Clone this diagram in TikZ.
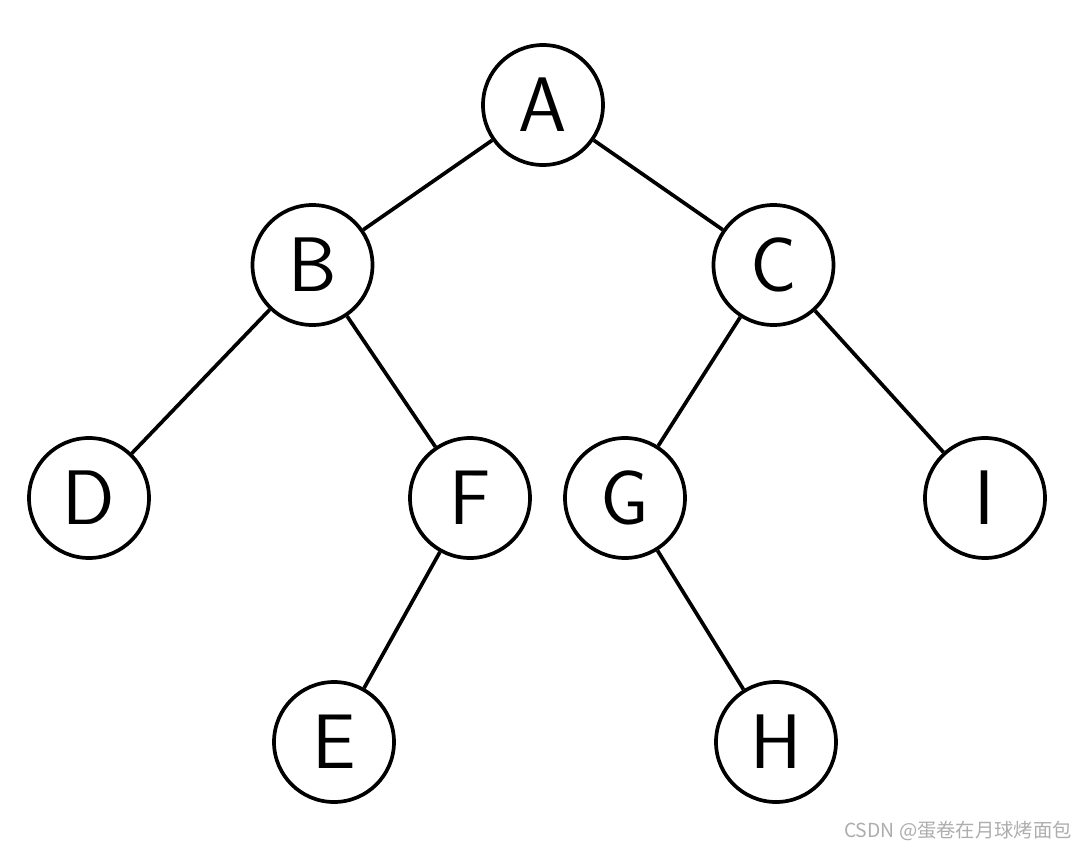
\documentclass[tikz,border=0pt]{standalone}
\usepackage{fontspec}
\newfontfamily\cjkfont{Noto Sans CJK SC}
\tikzset{
  treenode/.style={circle, draw, line width=2.1pt, minimum size=2.4cm, inner sep=0pt,
    font=\sffamily\fontsize{44}{48}\selectfont},
  watermark/.style={text=black!32, font=\cjkfont\fontsize{11}{13}\selectfont},
}
\begin{document}
\begin{tikzpicture}[level distance=3.2cm,
    level 1/.style={sibling distance=9.22cm},
    level 2/.style={sibling distance=7.4cm, level distance=4.66cm},
    level 3/.style={sibling distance=5.74cm, level distance=4.88cm},
    edge from parent/.style={draw, line width=2.1pt}]
      \useasboundingbox (0,0) rectangle (21.78,-17.02);
      \node[treenode] (A) at (10.86,-2.10) {A}
      child { node[treenode] (B) {B}
          child[xshift=-0.77cm] { node[treenode] (D) {D}}
          child[xshift=-0.55cm] { node[treenode] (F) {F}
              child[xshift=0.15cm] { node[treenode] (E) {E}}
              child[missing]
            }
        }
      child { node[treenode] (C) {C}
          child[xshift=0.73cm] { node[treenode] (G) {G}
              child[missing]
              child[xshift=0.15cm] { node[treenode] (H) {H}}
            }
          child[xshift=0.53cm] { node[treenode] (I) {I}}
        };
      \node[watermark] (mark) at (19.16,-16.62) {CSDN @蛋卷在月球烤面包};
    \end{tikzpicture}
\end{document}
